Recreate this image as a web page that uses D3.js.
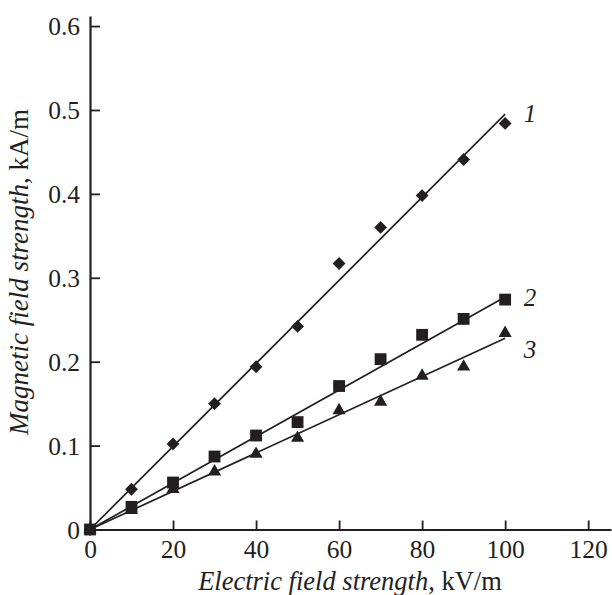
<!DOCTYPE html>
<html>
<head>
<meta charset="utf-8">
<script src="https://cdn.jsdelivr.net/npm/d3@7"></script>
<style>
body { margin: 0; background: #fff; }
svg text { font-family: "Liberation Serif", "Times New Roman", serif; fill: #231f20; }
</style>
</head>
<body>
<svg id="chart" width="612" height="595"></svg>
<script>
// electric field, kV/m
var fieldE = [0, 10, 20, 30, 40, 50, 60, 70, 80, 90, 100];
// magnetic field, kA/m, curves 1..3
var curve1 = [0, 0.048, 0.102, 0.150, 0.194, 0.242, 0.317, 0.360, 0.398, 0.441, 0.484];
var curve2 = [0, 0.027, 0.056, 0.087, 0.112, 0.128, 0.171, 0.203, 0.232, 0.251, 0.274];
var curve3 = [0, 0.023, 0.048, 0.069, 0.090, 0.109, 0.142, 0.152, 0.183, 0.194, 0.234];
// fitted straight lines through origin: value at E = 100
var fitEnd = [0.495, 0.277, 0.228];
var curveLabels = ["1", "2", "3"];
var symbols = ["diamond", "square", "triangle"];
var xTicks = [0, 20, 40, 60, 80, 100, 120];
var yTicks = [0, 0.1, 0.2, 0.3, 0.4, 0.5, 0.6];

var ink = "#231f20";
var svg = d3.select("#chart");

var x = d3.scaleLinear().domain([0, 125.5]).range([90, 611]);
var y = d3.scaleLinear().domain([0, 0.612]).range([529.5, 16]);

// axes
var gx = svg.append("g")
    .attr("transform", "translate(0," + y(0) + ")")
    .call(d3.axisBottom(x).tickValues(xTicks).tickSizeInner(-9).tickSizeOuter(0).tickPadding(10));
var gy = svg.append("g")
    .attr("transform", "translate(" + x(0) + ",0)")
    .call(d3.axisLeft(y).tickValues(yTicks).tickSizeInner(-10).tickSizeOuter(0).tickPadding(10)
	  .tickFormat(function(d) { return d === 0 ? "0" : d.toFixed(1); }));
[gx, gy].forEach(function(g) {
    g.selectAll("path.domain").attr("stroke", ink).attr("stroke-width", 2.2);
    g.selectAll(".tick line").attr("stroke", ink).attr("stroke-width", 1.8);
    g.selectAll(".tick text")
	.style("font-family", "'Liberation Serif', serif")
	.style("font-size", "25.5px")
	.attr("fill", ink);
});
gy.selectAll(".tick text").attr("dy", "0.34em");

// fitted lines
var series = [curve1, curve2, curve3];
svg.append("g").selectAll("line")
    .data(fitEnd)
    .join("line")
    .attr("x1", x(0)).attr("y1", y(0))
    .attr("x2", x(100))
    .attr("y2", function(d) { return y(d); })
    .attr("stroke", ink)
    .attr("stroke-width", 1.7);

// markers
function symbolPath(type) {
    if (type == "square") return d3.symbol().type(d3.symbolSquare).size(140)();
    if (type == "triangle") return d3.symbol().type(d3.symbolTriangle).size(75)();
    return d3.symbol().type(d3.symbolSquare).size(82)();
}
series.forEach(function(vals, i) {
    svg.append("g").selectAll("path")
	.data(vals)
	.join("path")
	.attr("d", symbolPath(symbols[i]))
	.attr("fill", ink)
	.attr("transform", function(d, j) {
	    var t = "translate(" + x(fieldE[j]) + "," + y(d) + ")";
	    return symbols[i] == "diamond" ? t + " rotate(45)" : t;
	});
});

// curve numbers
var labelY = [0.496, 0.277, 0.215];
svg.append("g").selectAll("text")
    .data(curveLabels)
    .join("text")
    .attr("x", x(104.5))
    .attr("y", function(d, i) { return y(labelY[i]); })
    .attr("dy", "0.34em")
    .style("font-size", "25px")
    .style("font-style", "italic")
    .text(function(d) { return d; });

// axis titles
var xt = svg.append("text")
    .attr("x", 350)
    .attr("y", 590)
    .attr("text-anchor", "middle")
    .style("font-size", "26.5px");
xt.append("tspan").style("font-style", "italic").text("Electric field strength");
xt.append("tspan").text(", kV/m");

var yt = svg.append("text")
    .attr("transform", "translate(28,272) rotate(-90)")
    .attr("text-anchor", "middle")
    .style("font-size", "27px");
yt.append("tspan").style("font-style", "italic").text("Magnetic field strength");
yt.append("tspan").text(", kA/m");
</script>
</body>
</html>
